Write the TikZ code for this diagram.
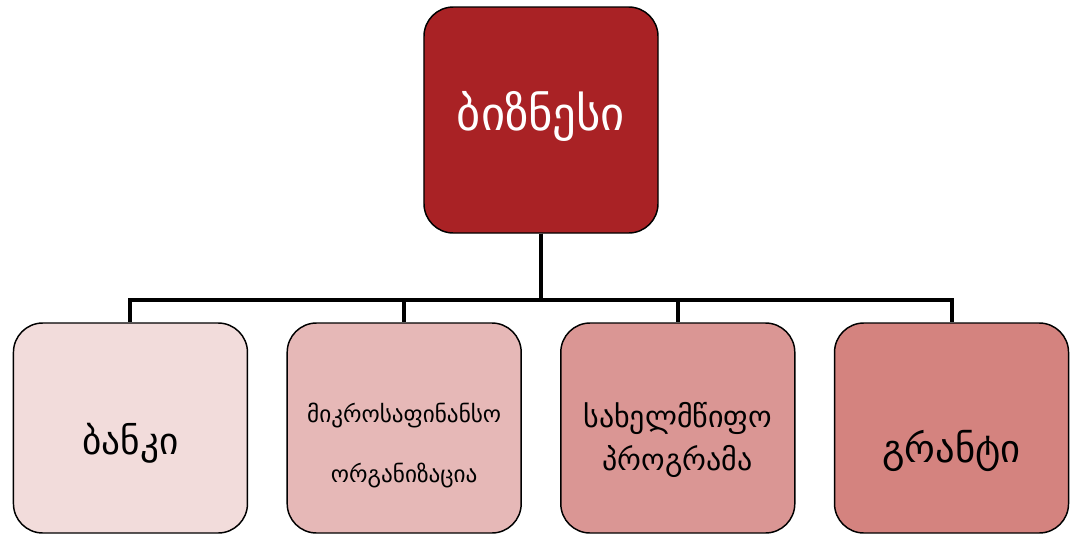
\documentclass[tikz,border=0pt]{standalone}
\usepackage{fontspec}
\setmainfont{DejaVu Sans}
\usetikzlibrary{calc}

\definecolor{rougebiz}{HTML}{A92225}
\definecolor{rose1}{HTML}{F2DCDB}
\definecolor{rose2}{HTML}{E6B8B7}
\definecolor{rose3}{HTML}{DA9694}
\definecolor{rose4}{HTML}{D4837F}

\begin{document}
\begin{tikzpicture}[node distance=231pt]
        \tikzstyle {racine} = [rectangle, rounded corners=22pt, minimum width=175.5pt, minimum height=169.5pt, text centered, draw=black, line width=1.1pt, fill=rougebiz, text=white]
        \tikzstyle {branche} = [rectangle, rounded corners=22pt, minimum width=175.5pt, minimum height=157.5pt, text centered, align=center, draw=black, line width=1.1pt]
        \tikzstyle {ligne} = [draw=black, line width=3pt]
        % Cadre
        \useasboundingbox (-405.75pt,90pt) rectangle (402pt,-312pt);
        % Racine
        \node (bizness) [racine, font=\fontsize{35}{40}\selectfont, text height=24pt, text depth=9pt] at (0,0) {ბიზნესი};
        % Branches
        \node (banki) [branche, fill=rose1, below of=bizness, xshift=-307.9pt, font=\fontsize{28}{34}\selectfont, text height=45pt, text depth=6pt] {ბანკი};
        \node (mikro) [branche, fill=rose2, below of=bizness, xshift=-102.6pt, font=\fontsize{17.4}{45}\selectfont, text height=86pt, text depth=5pt] {მიკროსაფინანსო\\ორგანიზაცია};
        \node (programa) [branche, fill=rose3, below of=bizness, xshift=102.6pt, font=\fontsize{22.5}{32}\selectfont, text height=68pt, text depth=5pt] {სახელმწიფო\\პროგრამა};
        \node (granti) [branche, fill=rose4, below of=bizness, xshift=307.9pt, font=\fontsize{29}{34}\selectfont, text height=57pt, text depth=6pt] {გრანტი};
        % Liens
        \draw[ligne] (bizness.south) -- ++(0,-50pt) -| (banki.north);
        \draw[ligne] (bizness.south) -- ++(0,-50pt) -| (mikro.north);
        \draw[ligne] (bizness.south) -- ++(0,-50pt) -| (programa.north);
        \draw[ligne] (bizness.south) -- ++(0,-50pt) -| (granti.north);
    \end{tikzpicture}
\end{document}
